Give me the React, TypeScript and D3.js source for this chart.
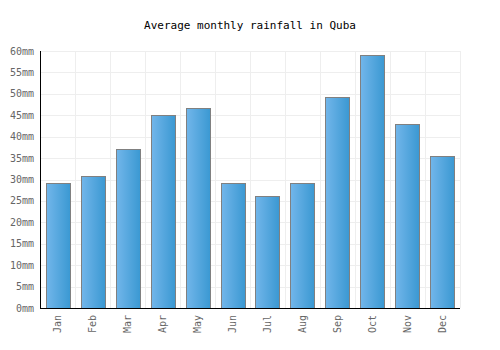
import { useEffect, useRef } from 'react';
import * as d3 from 'd3';

const months = ['Jan', 'Feb', 'Mar', 'Apr', 'May', 'Jun', 'Jul', 'Aug', 'Sep', 'Oct', 'Nov', 'Dec'];
const rainfall = [29.1, 30.9, 37.1, 45.1, 46.8, 29.1, 26.1, 29.1, 49.3, 59.1, 43.0, 35.6];
const yTicks = [0, 5, 10, 15, 20, 25, 30, 35, 40, 45, 50, 55, 60];

const W = 500;
const H = 350;
const FONT = '"DejaVu Sans Mono", monospace';

const App = () => {
  const svgRef = useRef<SVGSVGElement>(null);

  useEffect(() => {
    const margin = { top: 51, right: 40, bottom: 42, left: 40 };
    const svg = d3.select(svgRef.current);
    svg.selectAll('*').remove();

    const x = d3.scaleBand().domain(months).range([margin.left, W - margin.right]).paddingInner(0.314).paddingOuter(0.172);
    const y = d3.scaleLinear().domain([0, 60]).range([H - margin.bottom, margin.top]);

    const defs = svg.append('defs');
    const grad = defs.append('linearGradient').attr('id', 'barGrad').attr('x1', '0%').attr('x2', '100%');
    grad.append('stop').attr('offset', '0%').attr('stop-color', '#72b6ea');
    grad.append('stop').attr('offset', '100%').attr('stop-color', '#3a98d2');

    // grid
    const grid = svg.append('g');
    grid.selectAll('line.h')
      .data(yTicks)
      .enter()
      .append('line')
      .attr('x1', margin.left).attr('x2', W - margin.right)
      .attr('y1', d => Math.round(y(d)) + 0.5).attr('y2', d => Math.round(y(d)) + 0.5)
      .attr('stroke', '#eeeeee');

    const step = (W - margin.left - margin.right) / months.length;
    const bounds = d3.range(months.length + 1).map(i => margin.left + i * step);
    grid.selectAll('line.v')
      .data(bounds)
      .enter()
      .append('line')
      .attr('x1', d => Math.round(d) + 0.5).attr('x2', d => Math.round(d) + 0.5)
      .attr('y1', margin.top).attr('y2', H - margin.bottom)
      .attr('stroke', '#eeeeee');

    // bars
    svg.append('g')
      .selectAll('rect')
      .data(rainfall)
      .enter()
      .append('rect')
      .attr('x', (d, i) => Math.round(x(months[i])!) + 0.5)
      .attr('y', d => Math.round(y(d)) + 0.5)
      .attr('width', Math.round(x.bandwidth()))
      .attr('height', d => Math.round(y(0)) - Math.round(y(d)))
      .attr('fill', 'url(#barGrad)')
      .attr('stroke', '#808080')
      .attr('stroke-width', 1);

    // axes
    svg.append('line')
      .attr('x1', margin.left + 0.5).attr('x2', margin.left + 0.5)
      .attr('y1', margin.top).attr('y2', H - margin.bottom + 1)
      .attr('stroke', '#000');
    svg.append('line')
      .attr('x1', margin.left).attr('x2', W - margin.right)
      .attr('y1', Math.round(y(0)) + 0.5).attr('y2', Math.round(y(0)) + 0.5)
      .attr('stroke', '#000');

    svg.append('g')
      .selectAll('text')
      .data(yTicks)
      .enter()
      .append('text')
      .attr('x', margin.left - 6)
      .attr('y', d => y(d))
      .attr('dy', '0.35em')
      .attr('text-anchor', 'end')
      .attr('font-family', FONT)
      .attr('font-size', '10px')
      .attr('fill', '#666')
      .text(d => `${d}mm`);

    svg.append('g')
      .selectAll('text')
      .data(months)
      .enter()
      .append('text')
      .attr('transform', d => `translate(${x(d)! + x.bandwidth() / 2},${H - margin.bottom + 7}) rotate(-90)`)
      .attr('dy', '0.35em')
      .attr('text-anchor', 'end')
      .attr('font-family', FONT)
      .attr('font-size', '10px')
      .attr('fill', '#666')
      .text(d => d);

    svg.append('text')
      .attr('x', W / 2)
      .attr('y', 29)
      .attr('text-anchor', 'middle')
      .attr('font-family', FONT)
      .attr('font-size', '11px')
      .attr('fill', '#000')
      .text('Average monthly rainfall in Quba');
  }, []);

  return <svg ref={svgRef} width={W} height={H} style={{ display: 'block', margin: -8 }} />;
};

export default App;
